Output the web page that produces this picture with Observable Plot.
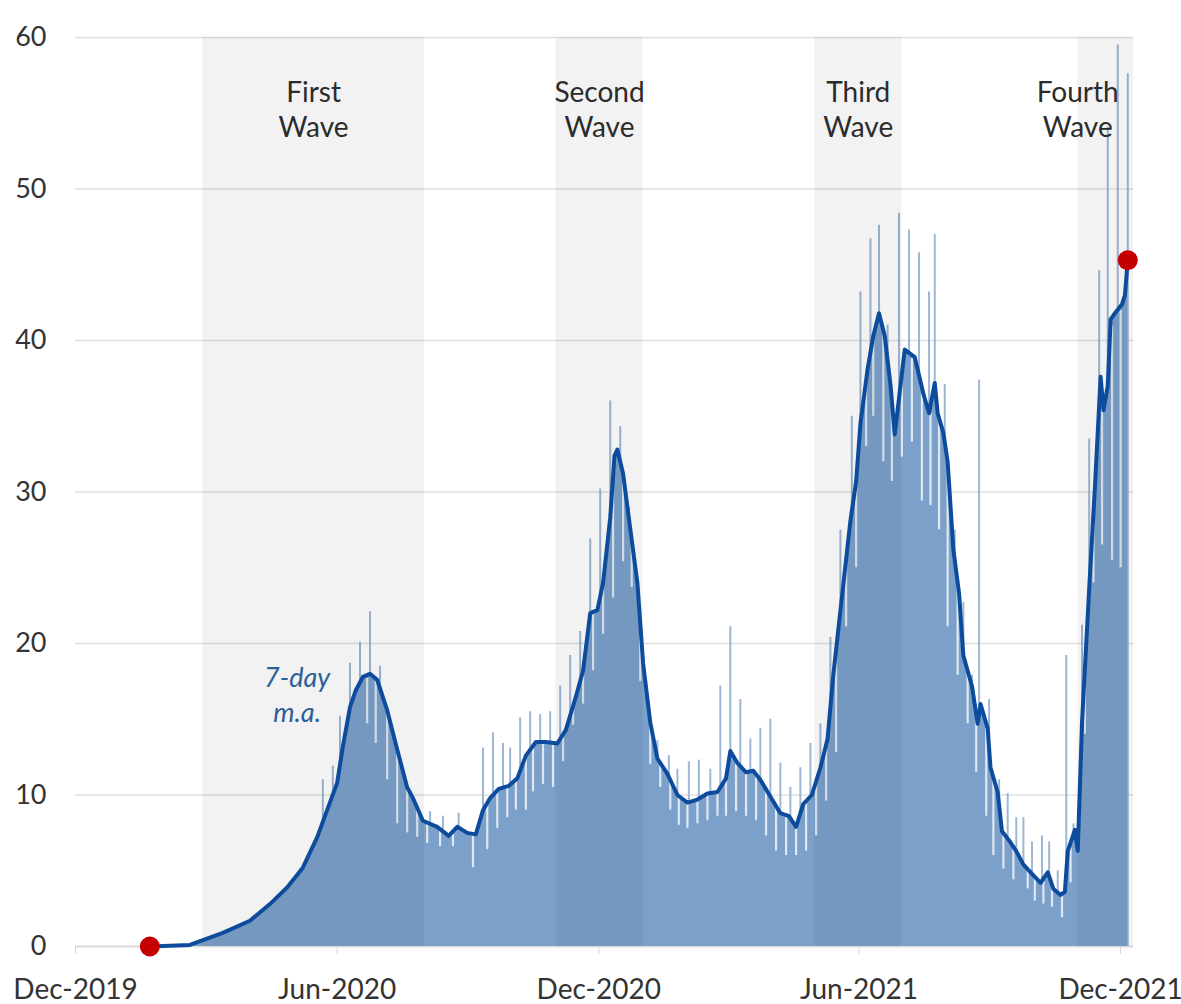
<!DOCTYPE html>
<html>
<head>
<meta charset="utf-8">
<script src="https://cdn.jsdelivr.net/npm/d3@7"></script>
<script src="https://cdn.jsdelivr.net/npm/@observablehq/plot@0.6"></script>
<style>
  html, body { margin: 0; padding: 0; background: #fff; }
  #chart { width: 1181px; height: 1004px; }
</style>
</head>
<body>
<div id="chart"></div>
<script>
// ---------- data ----------
// 7-day moving average
const maDates = [
  "2020-01-22","2020-02-19","2020-03-13","2020-04-01","2020-04-15","2020-04-27","2020-05-08","2020-05-18","2020-05-25",
  "2020-06-01","2020-06-05","2020-06-10","2020-06-14","2020-06-19","2020-06-24","2020-06-29","2020-07-06","2020-07-13",
  "2020-07-20","2020-07-24","2020-07-31","2020-08-10","2020-08-18","2020-08-24","2020-08-31","2020-09-06","2020-09-11",
  "2020-09-16","2020-09-22","2020-09-29","2020-10-05","2020-10-11","2020-10-18","2020-10-25","2020-11-02","2020-11-08",
  "2020-11-15","2020-11-20","2020-11-25","2020-11-30","2020-12-04","2020-12-09","2020-12-12","2020-12-14","2020-12-18",
  "2020-12-22","2020-12-28","2021-01-01","2021-01-06","2021-01-11","2021-01-18","2021-01-25","2021-02-01","2021-02-08",
  "2021-02-15","2021-02-22","2021-02-28","2021-03-03","2021-03-08","2021-03-14","2021-03-19","2021-03-24","2021-03-31",
  "2021-04-07","2021-04-13","2021-04-18","2021-04-23","2021-04-29","2021-05-05","2021-05-10","2021-05-14","2021-05-20",
  "2021-05-26","2021-05-30","2021-06-02","2021-06-07","2021-06-11","2021-06-15","2021-06-19","2021-06-23","2021-06-26",
  "2021-07-03","2021-07-10","2021-07-16","2021-07-20","2021-07-24","2021-07-26","2021-07-30","2021-08-02","2021-08-06",
  "2021-08-10","2021-08-13","2021-08-16","2021-08-19","2021-08-23","2021-08-25","2021-08-30","2021-09-01","2021-09-06",
  "2021-09-09","2021-09-14","2021-09-19","2021-09-24","2021-09-30","2021-10-06","2021-10-11","2021-10-15","2021-10-20",
  "2021-10-23","2021-10-25","2021-10-30","2021-11-01","2021-11-04","2021-11-09","2021-11-13","2021-11-17","2021-11-19",
  "2021-11-22","2021-11-24","2021-11-27","2021-12-02","2021-12-04","2021-12-06"
];
const maValues = [
  0, 0.1, 0.9, 1.7, 2.8, 3.9, 5.2, 7.2, 9.0,
  10.8, 13.2, 15.8, 16.9, 17.8, 18.0, 17.6, 15.6, 13.0,
  10.5, 9.8, 8.3, 7.9, 7.3, 7.9, 7.5, 7.4, 9.0,
  9.8, 10.4, 10.6, 11.1, 12.6, 13.5, 13.5, 13.4, 14.3,
  16.5, 18.2, 22.0, 22.2, 24.0, 28.3, 32.4, 32.8, 31.2,
  28.3, 24.0, 18.7, 14.8, 12.4, 11.4, 10.0, 9.5, 9.7,
  10.1, 10.2, 11.1, 12.9, 12.1, 11.5, 11.6, 11.0, 9.9,
  8.8, 8.6, 7.9, 9.4, 10.0, 11.8, 13.7, 17.9, 23.0,
  28.1, 30.7, 34.5, 38.1, 40.3, 41.8, 40.3, 37.1, 33.8,
  39.4, 38.9, 36.5, 35.2, 37.2, 35.2, 33.9, 32.0, 26.2,
  23.3, 19.2, 18.2, 17.2, 14.7, 16.0, 14.4, 11.8, 10.2,
  7.6, 7.0, 6.3, 5.4, 4.8, 4.2, 4.9, 3.8, 3.4,
  3.6, 6.3, 7.7, 6.3, 14.8, 23.6, 30.3, 37.6, 35.4,
  37.0, 41.4, 41.8, 42.4, 43.0, 45.3
];

// daily values that stand out above the average
const spikeDates = [
  "2020-05-22","2020-05-29","2020-06-03","2020-06-10","2020-06-17","2020-06-24","2020-07-01","2020-08-05","2020-08-14",
  "2020-08-25","2020-09-11","2020-09-18","2020-09-25","2020-09-30","2020-10-07","2020-10-14","2020-10-21","2020-10-28",
  "2020-11-04","2020-11-11","2020-11-18","2020-11-25","2020-12-02","2020-12-09","2020-12-16","2020-12-22","2020-12-28",
  "2021-01-11","2021-01-19","2021-01-25","2021-02-02","2021-02-09","2021-02-17","2021-02-24","2021-03-03","2021-03-10",
  "2021-03-17","2021-03-24","2021-03-31","2021-04-07","2021-04-14","2021-04-21","2021-04-28","2021-05-05","2021-05-12",
  "2021-05-19","2021-05-27","2021-06-02","2021-06-09","2021-06-15","2021-06-21","2021-06-29","2021-07-06","2021-07-13",
  "2021-07-20","2021-07-24","2021-07-31","2021-08-07","2021-08-13","2021-08-19","2021-08-24","2021-08-31","2021-09-07",
  "2021-09-13","2021-09-19","2021-09-24","2021-09-30","2021-10-07","2021-10-12","2021-10-18","2021-10-24","2021-10-29",
  "2021-11-04","2021-11-09","2021-11-16","2021-11-22","2021-11-29","2021-12-06"
];
const spikeValues = [
  11.0, 11.9, 15.2, 18.7, 20.1, 22.1, 18.5, 8.9, 8.6,
  8.8, 13.1, 14.1, 13.4, 13.1, 15.1, 15.5, 15.3, 15.5,
  17.2, 19.2, 20.8, 26.9, 30.2, 36.0, 34.3, 29.0, 24.2,
  13.6, 12.6, 11.7, 12.2, 12.3, 11.7, 17.2, 21.1, 16.3,
  13.7, 14.4, 15.0, 12.1, 10.5, 11.8, 13.4, 14.7, 20.4,
  27.5, 35.0, 43.2, 46.7, 47.6, 41.0, 48.4, 47.3, 45.8,
  43.2, 47.0, 37.1, 27.5, 22.7, 17.9, 37.4, 16.3, 11.0,
  10.1, 8.5, 8.5, 6.9, 7.3, 6.9, 5.0, 19.2, 8.1,
  21.2, 33.5, 44.6, 54.1, 59.5, 57.6
];

// daily values that fall below the average (low end, and the average they drop from)
const dipDates = [
  "2020-06-22","2020-06-28","2020-07-06","2020-07-13","2020-07-20","2020-07-27","2020-08-03","2020-08-12","2020-08-21",
  "2020-09-04","2020-09-14","2020-09-21","2020-09-28","2020-10-04","2020-10-11","2020-10-16","2020-10-23","2020-10-30",
  "2020-11-06","2020-11-13","2020-11-20","2020-11-27","2020-12-04","2020-12-11","2020-12-18","2020-12-24","2020-12-30",
  "2021-01-06","2021-01-13","2021-01-20","2021-01-26","2021-02-01","2021-02-08","2021-02-15","2021-02-22","2021-02-28",
  "2021-03-07","2021-03-14","2021-03-21","2021-03-28","2021-04-04","2021-04-11","2021-04-18","2021-04-25","2021-05-02",
  "2021-05-09","2021-05-16","2021-05-23","2021-05-30","2021-06-06","2021-06-11","2021-06-18","2021-06-24","2021-07-01",
  "2021-07-08","2021-07-15","2021-07-21","2021-07-27","2021-08-02","2021-08-09","2021-08-16","2021-08-22","2021-08-29",
  "2021-09-03","2021-09-10","2021-09-17","2021-09-27","2021-10-02","2021-10-08","2021-10-14","2021-10-21","2021-10-27",
  "2021-11-06","2021-11-12","2021-11-18","2021-11-25","2021-12-01"
];
const dipLows = [
  14.7, 13.4, 11.0, 8.1, 7.5, 7.2, 6.8, 6.6, 6.6,
  5.2, 6.4, 7.8, 8.5, 9.0, 9.0, 10.2, 10.7, 10.5,
  12.2, 14.6, 16.0, 18.2, 20.6, 23.0, 25.4, 23.7, 17.5,
  12.0, 10.5, 9.0, 8.0, 7.8, 8.1, 8.3, 8.6, 8.6,
  8.9, 8.6, 8.3, 7.3, 6.3, 6.0, 6.0, 6.3, 7.3,
  9.6, 12.8, 21.1, 25.0, 33.0, 35.0, 32.0, 30.7, 32.3,
  33.3, 29.4, 29.1, 27.5, 21.1, 17.9, 14.7, 11.5, 8.6,
  6.0, 5.1, 4.4, 3.8, 3.0, 2.8, 2.6, 1.9, 4.2,
  14.0, 24.0, 26.5, 25.5, 25.0
];
const dipHighs = [
  17.7, 17.5, 15.4, 12.8, 10.4, 9.0, 8.1, 7.7, 7.4,
  7.3, 9.3, 10.2, 10.5, 11.0, 12.5, 13.3, 13.4, 13.3,
  14.0, 15.8, 18.0, 21.9, 23.8, 30.0, 31.0, 26.8, 21.0,
  14.6, 12.0, 11.0, 9.8, 9.4, 9.6, 10.0, 10.1, 11.0,
  12.1, 11.4, 11.2, 10.3, 9.2, 8.6, 7.8, 9.5, 10.7,
  13.2, 19.3, 25.3, 30.5, 37.3, 40.0, 40.5, 35.5, 37.5,
  38.8, 36.6, 35.2, 34.8, 31.8, 23.8, 18.0, 15.3, 14.4,
  10.9, 7.5, 6.5, 5.0, 4.6, 4.3, 3.9, 3.4, 6.5,
  18.0, 28.5, 36.0, 41.0, 42.0
];

// shaded waves
const waveNames  = ["First\nWave", "Second\nWave", "Third\nWave", "Fourth\nWave"];
const waveStarts = ["2020-02-28", "2020-11-01", "2021-05-01", "2021-11-01"];
const waveEnds   = ["2020-08-01", "2021-01-01", "2021-07-01", "2021-12-10"];

// axes
const xTickDates  = ["2019-12-01", "2020-06-01", "2020-12-01", "2021-06-01", "2021-12-01"];
const xTickLabels = ["Dec-2019", "Jun-2020", "Dec-2020", "Jun-2021", "Dec-2021"];
const yTicks = [0, 10, 20, 30, 40, 50, 60];
const xDomain = ["2019-12-01", "2021-12-10"];

// ---------- build tables ----------
const parse = d3.utcParse("%Y-%m-%d");
const ma = maDates.map((d, i) => ({date: parse(d), value: maValues[i]}));
const spikes = spikeDates.map((d, i) => ({date: parse(d), value: spikeValues[i]}));
const dips = dipDates.map((d, i) => ({date: parse(d), low: dipLows[i], high: dipHighs[i]}));
const waves = waveNames.map((n, i) => {
  const s = parse(waveStarts[i]), e = parse(waveEnds[i]);
  const last = i === waveNames.length - 1;
  return {name: n, start: s, end: e, mid: last ? s : new Date((+s + +e) / 2)};
});
const xTicks = xTickDates.map(parse);
const labelByTime = new Map(xTicks.map((d, i) => [+d, xTickLabels[i]]));
const ends = [ma[0], ma[ma.length - 1]];

const AREA = "#7ba1cb";
const LINE = "#0d4c9c";

const chart = Plot.plot({
  width: 1181,
  height: 1004,
  marginLeft: 75,
  marginRight: 48,
  marginTop: 37,
  marginBottom: 58,
  x: {type: "utc", domain: xDomain.map(parse)},
  y: {domain: [0, 60]},
  style: {fontFamily: "Lato, 'Open Sans', sans-serif", background: "#fff", color: "#333", overflow: "visible"},
  marks: [
    Plot.ruleY(yTicks.filter(d => d > 0), {stroke: "#e0e0e0", strokeWidth: 1.5}),
    Plot.ruleY([0], {stroke: "#dadada", strokeWidth: 2}),
    Plot.ruleX(spikes, {x: "date", y1: 0, y2: "value", stroke: "#84a5cb", strokeWidth: 2, strokeOpacity: 0.8}),
    Plot.areaY(ma, {x: "date", y: "value", fill: AREA}),
    Plot.ruleX(dips, {x: "date", y1: "low", y2: "high", stroke: "#fff", strokeWidth: 2.2, strokeOpacity: 0.75}),
    Plot.rect(waves, {x1: "start", x2: "end", y1: 0, y2: 60, fill: "#000", fillOpacity: 0.052}),
    Plot.line(ma, {x: "date", y: "value", stroke: LINE, strokeWidth: 4, strokeLinejoin: "round", strokeLinecap: "round"}),
    Plot.dot(ends, {x: "date", y: "value", r: 10, fill: "#c40000"}),
    Plot.text(waves, {x: "mid", y: () => 60, text: "name", lineAnchor: "top", dy: 40, fontSize: 28, lineHeight: 1.25, fill: "#2b2b2b"}),
    Plot.text([{date: parse("2020-05-04"), value: 18.5, label: "7-day\nm.a."}], {
      x: "date", y: "value", text: "label", lineAnchor: "top", dy: -4, fontSize: 27, lineHeight: 1.3,
      fontStyle: "italic", fill: "#2c5f99"
    }),
    Plot.axisY(yTicks, {tickSize: 0, tickPadding: 29, fontSize: 27, fill: "#333", label: null}),
    Plot.axisX(xTicks, {tickFormat: d => labelByTime.get(+d), tickSize: 8, tickPadding: 25, fontSize: 28,
      stroke: "#d6d6d6", fill: "#333", label: null})
  ]
});
document.getElementById("chart").appendChild(chart);
</script>
</body>
</html>
